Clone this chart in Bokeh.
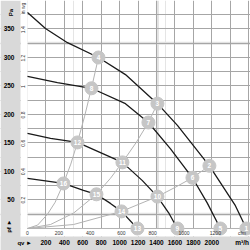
import math
from bokeh.plotting import figure
from bokeh.models import Range1d, LinearAxis, FixedTicker, Grid, Span, Label, BoxAnnotation
from bokeh.core.properties import value
from bokeh.embed import file_html
from bokeh.resources import INLINE

# ---- fan characteristic curves (flow m3/h, static pressure Pa) ----
c1_q = [0, 195, 434, 770, 1063, 1410, 1627, 1974, 2256, 2375]
c1_p = [379, 351, 326, 300, 270, 219, 181, 110, 40, 0]
c2_q = [0, 325, 694, 1063, 1312, 1550, 1790, 1950, 2093]
c2_p = [267, 256, 246, 219, 186, 140, 89, 45, 0]
c3_q = [0, 250, 542, 792, 1030, 1247, 1410, 1530, 1627]
c3_p = [167, 158, 151, 133, 116, 84, 56, 28, 0]
c4_q = [0, 390, 607, 748, 900, 1020, 1193]
c4_p = [88, 79, 67, 60, 44, 30, 0]

# ---- system curves ----
s1_q = [0, 110, 217, 300, 390, 470, 542, 620, 694, 770]
s1_p = [0, 6, 25, 46, 79, 113, 151, 197, 246, 300]
s2_q = [0, 250, 500, 748, 900, 1030, 1180, 1312, 1410]
s2_p = [0, 7, 27, 60, 88, 116, 151, 186, 219]
s3_q = [0, 500, 1020, 1410, 1600, 1790, 1974]
s3_p = [0, 7, 30, 56, 72, 89, 110]
s4_q = [0, 2375]
s4_p = [0, 0]

# ---- numbered operating points ----
pt_no = [str(i) for i in range(1, 17)]
pt_q = [2375, 1974, 1410, 770, 2093, 1790, 1312, 694, 1627, 1410, 1030, 542, 1193, 1020, 748, 390]
pt_p = [0, 110, 219, 300, 0, 89, 186, 246, 0, 56, 116, 151, 0, 30, 60, 79]

# ---- ticks ----
pa_ticks = [50, 100, 150, 200, 250, 300, 350]
inwg_ticks = [0.2, 0.4, 0.6, 0.8, 1.0, 1.2, 1.4]
inwg_labels = ["0.2", "0.4", "0.6", "0.8", "1", "1.2", "1.4"]
m3h_ticks = [200, 400, 600, 800, 1000, 1200, 1400, 1600, 1800, 2000]
cfm_ticks = [0, 200, 400, 600, 800, 1000, 1200]
grid_q = [200, 400, 600, 800, 1000, 1200, 1400, 1600, 1800, 2000, 2200, 2400]
grid_pa = list(range(25, 401, 25))
light_q = [1410]
light_pa = [25, 325]

# ---- chart geometry (data units) ----
Q_MIN, Q_MAX = -293, 2420          # flow range incl. the left label strip
PA_MIN, PA_MAX = -38.6, 400        # pressure range incl. the bottom label strip
Q_BAND = -76                       # edge of the grey left band
PA_BAND = -14                      # edge of the grey bottom band
PA_PER_INWG = 249.09
M3H_PER_CFM = 1.699

FONT = "Liberation Sans"
GRAY_BAND = "#d9d9d9"
GRID = "#a6a6a6"

p = figure(width=250, height=250, output_backend="svg", toolbar_location=None,
           x_range=Range1d(Q_MIN, Q_MAX), y_range=Range1d(PA_MIN, PA_MAX),
           x_axis_location=None, y_axis_location=None,
           min_border=0, background_fill_color="white", border_fill_color="white")
p.outline_line_color = None
p.extra_x_ranges = {"cfm": Range1d(Q_MIN / M3H_PER_CFM, Q_MAX / M3H_PER_CFM)}
p.extra_y_ranges = {"inwg": Range1d(PA_MIN / PA_PER_INWG, PA_MAX / PA_PER_INWG)}

# light highlight lines
for q in light_q:
    p.add_layout(Span(location=q, dimension="height", line_color="#e2e2e2", line_width=3, level="underlay"))
for pa in light_pa:
    p.add_layout(Span(location=pa, dimension="width", line_color="#e2e2e2", line_width=3, level="underlay"))

p.add_layout(Grid(dimension=0, ticker=FixedTicker(ticks=grid_q), grid_line_color=GRID, grid_line_width=1))
p.add_layout(Grid(dimension=1, ticker=FixedTicker(ticks=grid_pa), grid_line_color=GRID, grid_line_width=1))

# label strips (white) and bands (grey) around the chart area
p.add_layout(BoxAnnotation(left=Q_BAND, right=0, bottom=PA_BAND, fill_color="white", fill_alpha=1,
                           line_color=None, level="underlay"))
p.add_layout(BoxAnnotation(left=Q_BAND, top=0, bottom=PA_BAND, fill_color="white", fill_alpha=1,
                           line_color=None, level="underlay"))
p.add_layout(BoxAnnotation(right=Q_BAND, fill_color=GRAY_BAND, fill_alpha=1,
                           line_color=None, level="underlay"))
p.add_layout(BoxAnnotation(top=PA_BAND, fill_color=GRAY_BAND, fill_alpha=1,
                           line_color=None, level="underlay"))

def style_axis(ax, size, bold, color):
    ax.axis_line_color = None
    ax.major_tick_line_color = None
    ax.minor_tick_line_color = None
    ax.major_tick_out = 0
    ax.major_tick_in = 0
    ax.minor_tick_out = 0
    ax.minor_tick_in = 0
    ax.major_label_text_font = FONT
    ax.major_label_text_font_size = size
    ax.major_label_text_font_style = "bold" if bold else "normal"
    ax.major_label_text_color = color

# in wg axis (inner left)
ax_inwg = LinearAxis(y_range_name="inwg", fixed_location=0,
                     ticker=FixedTicker(ticks=inwg_ticks + [1.55]),
                     major_label_overrides={**{t: l for t, l in zip(inwg_ticks, inwg_labels)}, 1.55: "in wg"},
                     major_label_orientation="vertical", major_label_standoff=1)
style_axis(ax_inwg, "5px", False, "#333333")
p.add_layout(ax_inwg, "left")

# Pa axis (outer left, grey band)
ax_pa = LinearAxis(fixed_location=Q_BAND, ticker=FixedTicker(ticks=pa_ticks), major_label_standoff=6)
style_axis(ax_pa, "6.5px", True, "black")
p.add_layout(ax_pa, "left")

# cfm axis (inner bottom)
ax_cfm = LinearAxis(x_range_name="cfm", fixed_location=0,
                    ticker=FixedTicker(ticks=cfm_ticks + [1370]),
                    major_label_overrides={1370: "cfm"}, major_label_standoff=2)
style_axis(ax_cfm, "5px", False, "#333333")
p.add_layout(ax_cfm, "below")

# m3/h axis (outer bottom, grey band)
ax_m3h = LinearAxis(fixed_location=PA_BAND, ticker=FixedTicker(ticks=m3h_ticks + [2330]),
                    major_label_overrides={2330: "m³/h"}, major_label_standoff=3)
style_axis(ax_m3h, "6.5px", True, "black")
p.add_layout(ax_m3h, "below")

# system curves
for q, pa in [(s1_q, s1_p), (s2_q, s2_p), (s3_q, s3_p), (s4_q, s4_p)]:
    p.line(q, pa, line_color="#b3b3b3", line_width=1)

# fan curves
for q, pa in [(c1_q, c1_p), (c2_q, c2_p), (c3_q, c3_p), (c4_q, c4_p)]:
    p.line(q, pa, line_color="#1a1a1a", line_width=1.3)

# operating points
p.scatter(pt_q, pt_p, size=13, marker="circle", fill_color="#c6c6c6", line_color="#c6c6c6")
p.text(pt_q, pt_p, text=pt_no, text_align="center", text_baseline="middle",
       text_font=value(FONT), text_font_size="6.5px", text_font_style="bold", text_color="white")

# unit / symbol labels
p.add_layout(Label(x=-184, y=379, text="Pa", angle=math.pi / 2, text_align="center",
                   text_baseline="middle", text_font=FONT, text_font_size="6px",
                   text_font_style="bold", text_color="black"))
p.add_layout(Label(x=-200, y=4, text="pf ►", angle=math.pi / 2, text_align="center",
                   text_baseline="middle", text_font=FONT, text_font_size="6px",
                   text_font_style="bold", text_color="black"))
p.add_layout(Label(x=-30, y=-25, text="qv ►", text_align="center",
                   text_baseline="middle", text_font=FONT, text_font_size="6px",
                   text_font_style="bold", text_color="black"))

open("out.html", "w").write(file_html(p, INLINE))
